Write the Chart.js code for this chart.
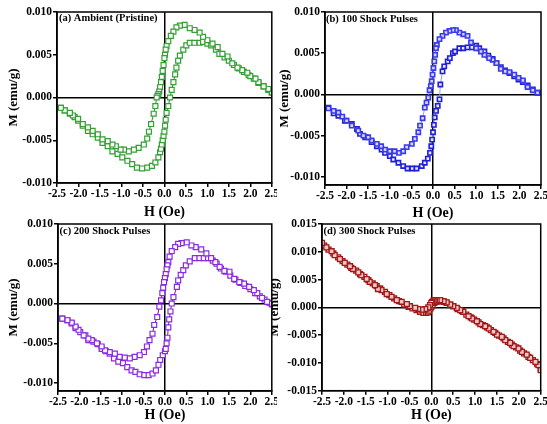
<!DOCTYPE html>
<html><head><meta charset="utf-8">
<script src="https://cdn.jsdelivr.net/npm/chart.js@4.4.0/dist/chart.umd.min.js"></script>
<style>
html,body{margin:0;padding:0;background:#fff;}
body{width:547px;height:424px;position:relative;overflow:hidden;}
.wrap{position:absolute;overflow:hidden;}
.wrap canvas{position:absolute;}
</style></head><body>
<div class="wrap" style="left:0px;top:0px;width:277px;height:224px"><canvas id="ca" style="left:0px;top:0px;width:277px;height:224px" width="277" height="224"></canvas></div>
<div class="wrap" style="left:277px;top:0px;width:270px;height:224px"><canvas id="cb" style="left:0px;top:0px;width:270px;height:224px" width="270" height="224"></canvas></div>
<div class="wrap" style="left:0px;top:214px;width:277px;height:210px"><canvas id="cc" style="left:0px;top:0px;width:277px;height:210px" width="277" height="210"></canvas></div>
<div class="wrap" style="left:272px;top:214px;width:275px;height:210px"><canvas id="cd" style="left:-10px;top:0px;width:285px;height:210px" width="285" height="210"></canvas></div>
<script>
// ---------- tick labels ----------
const H_TICKS = [-2.5,-2.0,-1.5,-1.0,-0.5,0.0,0.5,1.0,1.5,2.0,2.5];
const M_TICKS_10 = [-0.010,-0.005,0.000,0.005,0.010];
const M_TICKS_15 = [-0.015,-0.010,-0.005,0.000,0.005,0.010,0.015];
const X_TITLE = 'H (Oe)';
const Y_TITLE = 'M (emu/g)';

// ---------- panel labels ----------
const LABEL_A = '(a) Ambient (Pristine)';
const LABEL_B = '(b) 100 Shock Pulses';
const LABEL_C = '(c) 200 Shock Pulses';
const LABEL_D = '(d) 300 Shock Pulses';

// ---------- (a) Ambient ----------
const aDescH = [2.5,2.42,2.31,2.19,2.12,2.0,1.93,1.81,1.7,1.58,1.47,1.35,1.24,1.12,1.0,0.9,0.82,0.7,0.59,0.47,0.36,0.28,0.21,0.15,0.09,0.05,0.03,0.015,0.0,-0.02,-0.04,-0.06,-0.08,-0.1,-0.12,-0.14,-0.16,-0.18,-0.21,-0.25,-0.31,-0.36,-0.4,-0.48,-0.6,-0.71,-0.83,-0.94,-1.02,-1.13,-1.21,-1.32,-1.44,-1.55,-1.67,-1.78,-1.9,-2.01,-2.13,-2.2,-2.32,-2.41];
const aDescM = [0.0006,0.001,0.0013,0.0018,0.0022,0.0025,0.0029,0.0032,0.0035,0.004,0.0048,0.0051,0.0059,0.0063,0.0067,0.0071,0.0076,0.0079,0.0081,0.0085,0.0084,0.0082,0.0077,0.0072,0.0066,0.0060,0.0056,0.0050,0.0046,0.0038,0.0031,0.0024,0.0018,0.0012,0.0007,0.0004,0.0002,0.0,-0.001,-0.0019,-0.0031,-0.0040,-0.0048,-0.0055,-0.0059,-0.0061,-0.0063,-0.0061,-0.0061,-0.0057,-0.0055,-0.0051,-0.0049,-0.0043,-0.0039,-0.0035,-0.0031,-0.0025,-0.0021,-0.0018,-0.0015,-0.0012];
const aAscH = [-2.41,-2.32,-2.2,-2.09,-2.01,-1.9,-1.78,-1.67,-1.55,-1.44,-1.32,-1.21,-1.09,-0.98,-0.86,-0.75,-0.64,-0.52,-0.4,-0.29,-0.21,-0.14,-0.1,-0.08,-0.06,-0.04,-0.02,0.0,0.015,0.03,0.05,0.09,0.13,0.17,0.21,0.25,0.28,0.32,0.36,0.44,0.51,0.59,0.7,0.82,0.9,1.0,1.09,1.2,1.28,1.4,1.5,1.62,1.73,1.85,1.96,2.08,2.19,2.31,2.42,2.5];
const aAscM = [-0.0012,-0.0015,-0.0019,-0.0023,-0.0027,-0.0033,-0.0039,-0.0043,-0.0047,-0.0053,-0.0057,-0.0063,-0.0066,-0.0070,-0.0074,-0.0078,-0.0082,-0.0083,-0.0082,-0.0080,-0.0076,-0.0070,-0.0064,-0.0060,-0.0055,-0.0050,-0.0045,-0.0040,-0.0033,-0.0026,-0.0018,-0.0010,0.0,0.0009,0.0018,0.0027,0.0035,0.0043,0.0049,0.0056,0.0061,0.0064,0.0064,0.0064,0.0065,0.0063,0.0061,0.0056,0.0051,0.0047,0.0043,0.0038,0.0034,0.0030,0.0026,0.0022,0.0017,0.0013,0.0009,0.0006];

// ---------- (b) 100 shock pulses ----------
const bDescH = [2.42,2.31,2.19,2.08,1.98,1.88,1.77,1.67,1.57,1.47,1.38,1.3,1.19,1.11,1.0,0.88,0.8,0.7,0.61,0.53,0.46,0.38,0.3,0.22,0.15,0.09,0.07,0.05,0.03,0.01,-0.01,-0.03,-0.05,-0.08,-0.11,-0.15,-0.19,-0.24,-0.3,-0.34,-0.42,-0.49,-0.61,-0.69,-0.79,-0.89,-1.0,-1.11,-1.2,-1.3,-1.42,-1.5,-1.61,-1.73,-1.88,-2.0,-2.1,-2.19,-2.3,-2.42];
const bDescM = [0.0002,0.0005,0.0009,0.0017,0.002,0.0024,0.0027,0.0028,0.0031,0.0038,0.0042,0.0044,0.0048,0.0052,0.0056,0.0063,0.0071,0.0073,0.0075,0.0078,0.0078,0.0077,0.0075,0.0071,0.0067,0.006,0.0056,0.0048,0.004,0.0032,0.0024,0.0016,0.0010,0.0005,-0.0004,-0.001,-0.0016,-0.0029,-0.0038,-0.0046,-0.0054,-0.006,-0.0064,-0.0069,-0.0071,-0.0069,-0.0069,-0.0067,-0.0063,-0.006,-0.0056,-0.0052,-0.005,-0.0044,-0.0038,-0.0032,-0.0027,-0.0022,-0.002,-0.0017];
const bAscH = [-2.42,-2.3,-2.19,-2.04,-1.88,-1.76,-1.69,-1.57,-1.42,-1.3,-1.19,-1.11,-1.0,-0.92,-0.8,-0.69,-0.59,-0.48,-0.38,-0.26,-0.19,-0.12,-0.07,-0.04,-0.02,0.0,0.02,0.04,0.07,0.11,0.15,0.17,0.22,0.26,0.34,0.39,0.46,0.51,0.61,0.7,0.8,0.9,1.0,1.07,1.19,1.28,1.38,1.47,1.57,1.67,1.77,1.88,1.98,2.08,2.19,2.31,2.42];
const bAscM = [-0.0016,-0.0023,-0.0026,-0.0032,-0.0036,-0.0042,-0.0048,-0.0052,-0.0058,-0.0063,-0.0067,-0.0071,-0.0075,-0.0079,-0.0083,-0.0087,-0.009,-0.009,-0.009,-0.0087,-0.0083,-0.0078,-0.0071,-0.0063,-0.0055,-0.0046,-0.0037,-0.0028,-0.0020,-0.0014,-0.0006,0.0012,0.0028,0.0034,0.004,0.0044,0.005,0.0052,0.0056,0.0056,0.0057,0.0057,0.0059,0.0056,0.0052,0.0047,0.0043,0.0038,0.0033,0.0029,0.0026,0.0022,0.0018,0.0015,0.0011,0.0006,0.0002];

// ---------- (c) 200 shock pulses ----------
const cDescH = [2.5,2.39,2.27,2.16,2.08,1.97,1.85,1.74,1.62,1.51,1.39,1.28,1.18,1.08,0.97,0.85,0.72,0.62,0.51,0.39,0.31,0.24,0.16,0.11,0.08,0.06,0.04,0.02,0.0,-0.02,-0.04,-0.06,-0.09,-0.13,-0.18,-0.25,-0.29,-0.36,-0.42,-0.49,-0.59,-0.71,-0.82,-0.94,-1.06,-1.17,-1.29,-1.4,-1.48,-1.59,-1.71,-1.79,-1.9,-2.02,-2.09,-2.18,-2.28,-2.4];
const cDescM = [0.0,0.0002,0.0007,0.0013,0.0017,0.0021,0.0025,0.0027,0.0031,0.004,0.0041,0.0046,0.0052,0.0057,0.0063,0.0068,0.0071,0.0073,0.0077,0.0076,0.0075,0.0071,0.0066,0.0059,0.0052,0.0048,0.0043,0.0037,0.0032,0.0027,0.0020,0.0013,0.0004,-0.0004,-0.0017,-0.0027,-0.0038,-0.0046,-0.0054,-0.0061,-0.0065,-0.0067,-0.0069,-0.0068,-0.0067,-0.0063,-0.0061,-0.0059,-0.0054,-0.005,-0.0046,-0.0044,-0.004,-0.0033,-0.0029,-0.0024,-0.0021,-0.0019];
const cAscH = [-2.4,-2.28,-2.18,-2.09,-1.98,-1.86,-1.79,-1.67,-1.57,-1.48,-1.38,-1.29,-1.19,-1.09,-0.98,-0.88,-0.78,-0.69,-0.59,-0.48,-0.38,-0.29,-0.21,-0.15,-0.11,-0.05,0.0,0.02,0.04,0.06,0.08,0.1,0.13,0.16,0.2,0.28,0.31,0.37,0.43,0.49,0.58,0.7,0.81,0.91,1.01,1.12,1.21,1.31,1.42,1.53,1.65,1.77,1.88,2.0,2.11,2.22,2.33,2.44,2.5];
const cAscM = [-0.0019,-0.0021,-0.0025,-0.0031,-0.0036,-0.004,-0.0046,-0.0048,-0.0051,-0.0057,-0.006,-0.0063,-0.0069,-0.0073,-0.0075,-0.008,-0.0084,-0.0086,-0.0089,-0.009,-0.009,-0.0088,-0.0084,-0.0077,-0.0071,-0.0065,-0.0060,-0.0057,-0.0050,-0.0043,-0.0030,-0.0020,-0.0010,0.0,0.0008,0.0021,0.0029,0.0036,0.0042,0.0048,0.0053,0.0057,0.0057,0.0057,0.0057,0.0054,0.005,0.0044,0.0040,0.0035,0.003,0.0026,0.0022,0.0018,0.0013,0.0009,0.0005,0.0001,-0.0001];

// ---------- (d) 300 shock pulses ----------
const dDescH = [2.5,2.45,2.38,2.26,2.18,2.07,1.99,1.88,1.8,1.69,1.61,1.5,1.42,1.31,1.23,1.12,1.04,0.93,0.85,0.73,0.66,0.58,0.5,0.43,0.35,0.28,0.2,0.12,0.08,0.05,0.02,0.0,-0.03,-0.07,-0.14,-0.22,-0.3,-0.37,-0.49,-0.56,-0.68,-0.79,-0.91,-1.02,-1.14,-1.22,-1.29,-1.41,-1.48,-1.6,-1.67,-1.79,-1.86,-1.98,-2.09,-2.21,-2.28,-2.4,-2.5];
const dDescM = [-0.0113,-0.0104,-0.0098,-0.0091,-0.0085,-0.008,-0.0074,-0.007,-0.0064,-0.0059,-0.0053,-0.0049,-0.0044,-0.0038,-0.0034,-0.003,-0.0025,-0.002,-0.0016,-0.0008,-0.0005,-0.0001,0.0002,0.0005,0.0009,0.0011,0.0013,0.0013,0.0013,0.0012,0.0010,0.0008,0.0004,0.0,-0.0003,-0.0004,-0.0003,-0.0001,0.0002,0.0006,0.001,0.0013,0.0019,0.0024,0.0031,0.0033,0.004,0.0046,0.0051,0.0058,0.0063,0.0069,0.0074,0.008,0.0087,0.0094,0.0101,0.0108,0.0116];
const dAscH = [-2.45,-2.35,-2.24,-2.13,-2.03,-1.92,-1.83,-1.72,-1.63,-1.53,-1.44,-1.34,-1.25,-1.17,-1.06,-0.96,-0.85,-0.74,-0.62,-0.52,-0.43,-0.34,-0.26,-0.18,-0.12,-0.08,-0.05,-0.02,0.0,0.03,0.07,0.12,0.2,0.28,0.35,0.43,0.5,0.6,0.7,0.8,0.9,0.98,1.08,1.18,1.27,1.36,1.46,1.55,1.65,1.75,1.84,1.94,2.03,2.12,2.22,2.32,2.42,2.5];
const dAscM = [0.0111,0.0104,0.0097,0.009,0.0083,0.0077,0.0071,0.0066,0.006,0.0055,0.0049,0.0043,0.0038,0.0034,0.0028,0.0022,0.0016,0.0011,0.0005,0.0001,-0.0002,-0.0005,-0.0008,-0.001,-0.001,-0.0009,-0.0006,-0.0002,0.0001,0.0004,0.0008,0.001,0.0011,0.001,0.0008,0.0005,0.0002,-0.0003,-0.0007,-0.0013,-0.0018,-0.0022,-0.0027,-0.0032,-0.0036,-0.0041,-0.0046,-0.0051,-0.0056,-0.0062,-0.0067,-0.0072,-0.0078,-0.0083,-0.0089,-0.0095,-0.0102,-0.0110];

// ---------- helpers ----------
const FONT = '"Liberation Serif", "Times New Roman", serif';
const toPts = (hs, ms) => hs.map((h, i) => ({x: h, y: ms[i]}));

const panelPlugin = {
  id: 'panel',
  afterDraw(chart, args, opts) {
    const {ctx, chartArea: a} = chart;
    ctx.save();
    ctx.strokeStyle = '#000';
    ctx.lineWidth = 1.5;
    ctx.strokeRect(a.left, a.top, a.right - a.left, a.bottom - a.top);
    ctx.font = 'bold 10.5px ' + FONT;
    ctx.fillStyle = '#000';
    ctx.textBaseline = 'middle';
    ctx.textAlign = 'left';
    ctx.fillText(opts.text, a.left + opts.dx, a.top + opts.dy);
    ctx.restore();
  }
};

function makePanel(id, p) {
  const ds = (h, m, st) => ({
    data: toPts(h, m),
    showLine: true,
    borderColor: p.line,
    borderWidth: 1,
    pointStyle: 'rect',
    pointRadius: p.r,
    pointBorderWidth: p.pbw,
    pointBorderColor: st.border,
    pointBackgroundColor: st.fill,
    tension: 0
  });
  return new Chart(document.getElementById(id), {
    type: 'scatter',
    data: {datasets: [ds(p.dh, p.dm, p.s1), ds(p.ah, p.am, p.s2)]},
    options: {
      responsive: false,
      animation: false,
      events: [],
      layout: {padding: p.pad},
      plugins: {legend: {display: false}, tooltip: {enabled: false}, panel: {text: p.label, dx: p.ldx, dy: p.ldy}},
      scales: {
        x: {
          type: 'linear', position: 'bottom', min: -2.5, max: 2.5,
          afterBuildTicks: s => { s.ticks = H_TICKS.map(v => ({value: v})); },
          afterFit: s => { s.height = p.xh; s.paddingLeft = 0; s.paddingRight = 0; },
          ticks: {callback: v => Number(v).toFixed(1), color: '#000', font: {family: FONT, size: 11.5, weight: 'bold'}, padding: 0, maxRotation: 0, autoSkip: false},
          grid: {color: c => (c.tick && Math.abs(c.tick.value) < 1e-9) ? '#000' : 'rgba(0,0,0,0)', lineWidth: 1.5, tickColor: '#000', tickLength: 4, drawOnChartArea: true, drawTicks: true},
          border: {display: true, color: '#000', width: 1.5},
          title: {display: true, text: X_TITLE, color: '#000', font: {family: FONT, size: 14, weight: 'bold'}, padding: {top: 0, bottom: p.xtp}}
        },
        y: {
          type: 'linear', position: 'left', min: p.ymin, max: p.ymax,
          afterBuildTicks: s => { s.ticks = p.yt.map(v => ({value: v})); },
          afterFit: s => { s.width = p.yw; s.paddingTop = 0; s.paddingBottom = 0; },
          ticks: {callback: v => Number(v).toFixed(3), color: '#000', font: {family: FONT, size: 11.5, weight: 'bold'}, padding: 1, autoSkip: false},
          grid: {color: c => (c.tick && Math.abs(c.tick.value) < 1e-9) ? '#000' : 'rgba(0,0,0,0)', lineWidth: 1.5, tickColor: '#000', tickLength: 4, drawOnChartArea: true, drawTicks: true},
          border: {display: true, color: '#000', width: 1.5},
          title: {display: true, text: Y_TITLE, color: '#000', font: {family: FONT, size: 13, weight: 'bold'}, padding: {top: p.ytp, bottom: 0}}
        }
      }
    },
    plugins: [panelPlugin]
  });
}

makePanel('ca', {
  dh: aDescH, dm: aDescM, ah: aAscH, am: aAscM,
  line: '#2e8b2e', r: 3.5, pbw: 1.2,
  s1: {border: '#33a033', fill: '#ffffff'}, s2: {border: '#33a033', fill: '#ffffff'},
  ymin: -0.010, ymax: 0.010, yt: M_TICKS_10,
  pad: {left: 0, top: 12, right: 1, bottom: 0}, yw: 57, xh: 41, xtp: 3.6, ytp: 6.2,
  label: LABEL_A, ldx: 2, ldy: 6.5
});
makePanel('cb', {
  dh: bDescH, dm: bDescM, ah: bAscH, am: bAscM,
  line: '#9a9ae8', r: 3, pbw: 1.6,
  s1: {border: '#3a3ae8', fill: '#d8d8ff'}, s2: {border: '#1f1fd6', fill: '#e8e8ff'},
  ymin: -0.011, ymax: 0.010, yt: M_TICKS_10,
  pad: {left: 0, top: 12, right: 6, bottom: 0}, yw: 48, xh: 39, xtp: 2.6, ytp: 0.2,
  label: LABEL_B, ldx: 1, ldy: 7
});
makePanel('cc', {
  dh: cDescH, dm: cDescM, ah: cAscH, am: cAscM,
  line: '#7a2276', r: 3.5, pbw: 1.2,
  s1: {border: '#8a2be2', fill: '#ffffff'}, s2: {border: '#8a2be2', fill: '#ffffff'},
  ymin: -0.011, ymax: 0.010, yt: M_TICKS_10,
  pad: {left: 0, top: 10, right: 0.5, bottom: 0}, yw: 58, xh: 33, xtp: 0.6, ytp: 5.5,
  label: LABEL_C, ldx: 1.5, ldy: 7
});
makePanel('cd', {
  dh: dDescH, dm: dDescM, ah: dAscH, am: dAscM,
  line: '#6b0000', r: 3.5, pbw: 1.3,
  s1: {border: '#a01818', fill: '#f0c8c8'}, s2: {border: '#a01818', fill: '#f0c8c8'},
  ymin: -0.015, ymax: 0.015, yt: M_TICKS_15,
  pad: {left: 0, top: 10, right: 6.3, bottom: 0}, yw: 60, xh: 33.3, xtp: 0.6, ytp: 5.2,
  label: LABEL_D, ldx: 1.5, ldy: 7
});
</script>
</body></html>
